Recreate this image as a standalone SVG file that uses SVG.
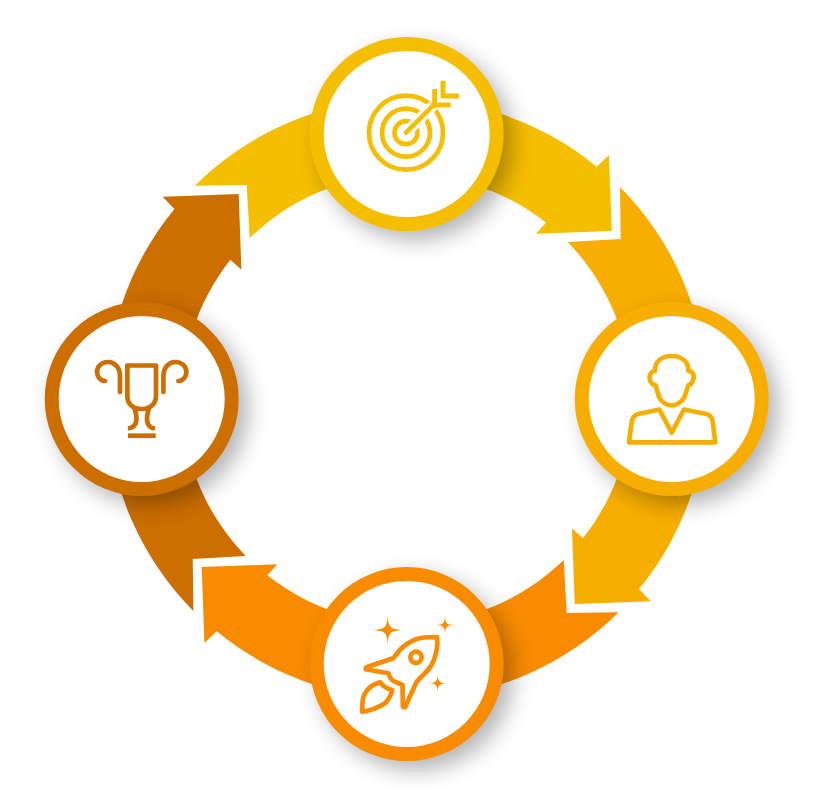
<svg xmlns="http://www.w3.org/2000/svg" width="821" height="801" viewBox="0 0 821 801">
<style>
.ring{stroke:none;filter:url(#sh)}
.hole{fill:#fff}
.ic{fill:none;stroke-width:4.7;stroke-linejoin:round}
.c1{fill:#F6BE00}.c2{fill:#F8AE00}.c3{fill:#F98B00}.c4{fill:#CC6E00}
.s1{stroke:#F6BE00}.s2{stroke:#F8AE00}.s3{stroke:#F98B00}.s4{stroke:#CC6E00}
</style>
<defs>
<filter id="sh" x="-30%" y="-30%" width="170%" height="170%" color-interpolation-filters="sRGB">
<feGaussianBlur in="SourceAlpha" stdDeviation="11"/>
<feOffset dx="9" dy="9"/>
<feComponentTransfer><feFuncA type="linear" slope="0.3"/></feComponentTransfer>
<feMerge><feMergeNode/><feMergeNode in="SourceGraphic"/></feMerge>
</filter>
<path id="arrow" d="M194.7,185.7 L246.7,185 L249.7,238 A225,225 0 0 1 546,222.7 L536,233.7 L611.7,231 L609,155 L596.7,166.7 A300.5,300.5 0 0 0 194.7,185.7 Z"/>
<path id="star" d="M0,-1 C0.05,-0.2 0.2,-0.06 1,0 C0.2,0.06 0.05,0.2 0,1 C-0.05,0.2 -0.2,0.06 -1,0 C-0.2,-0.06 -0.05,-0.2 0,-1 Z"/>
</defs>
<g id="connectors">
<use href="#arrow" class="c1"/>
<use href="#arrow" class="c2" transform="rotate(90 406.7 399)"/>
<use href="#arrow" class="c3" transform="rotate(180 406.7 399)"/>
<use href="#arrow" class="c4" transform="rotate(270 406.7 399)"/>
</g>
<g id="node-target">
<circle class="ring c1" cx="406.7" cy="134" r="97"/>
<circle class="hole" cx="406.7" cy="134" r="83"/>
<g class="ic s1">
<circle cx="406" cy="132.7" r="37"/>
<circle cx="406" cy="132.7" r="24"/>
<circle cx="406" cy="132.7" r="11.5"/>
<path d="M411,127.7 L433,105.7" stroke="#fff" stroke-width="11"/>
<path d="M406,132.7 L434,104.7" stroke-linecap="round"/>
<path d="M434.7,89 V105 H450.7 M443,80.7 V96 H459" stroke-width="5"/>
</g>
</g>
<g id="node-person">
<circle class="ring c2" cx="671.7" cy="399" r="97"/>
<circle class="hole" cx="671.7" cy="399" r="83"/>
<g class="ic s2">
<path d="M655,371 C655,361 662,356 671.7,356 C681,356 688.5,361 688.5,371 C693,371 695,376 693,380 C692,383 690,385 688.5,385 L684.5,397 C682,402 676,405.5 671.7,405.5 C667,405.5 661,402 659,397 L655.5,385 C653,385 651,383 650,380 C648.5,376 651,371 655,371 Z"/>
<path d="M629,442.3 L631.7,421.7 C632.5,417 635,415 638,414 L659.3,409.5 L671.7,432.7 L684,409.5 L706.7,414 C709.5,415 712,417 712.7,421.7 L715.3,442.3 Z"/>
</g>
</g>
<g id="node-rocket">
<circle class="ring c3" cx="406.7" cy="664" r="97"/>
<circle class="hole" cx="406.7" cy="664" r="83"/>
<g class="ic s3">
<path d="M437,637 C428,637 422,637 416.7,639 C409,642 403,646 399,651 L393.3,658.3 L367,667 C365,668 365.5,669.5 367,669.5 L388.3,673.3 C390,678 392,681 395,681.7 L402.5,685 L402.8,705 C403,708 405.5,708 406,705 L416.7,681.7 L428,670 C433,664 436,655 437,648 C437.5,644 437.5,640 437,637 Z"/>
<circle cx="416" cy="657.3" r="5.6"/>
<path d="M362.3,711.7 C362,703 362.5,697 365,693.3 C368,688 374,684 380,682.3 C383,686 388,689 392.3,690 C391,696 388,700 385,703.3 C379,707 371,711 362.3,711.7 Z"/>
</g>
<use href="#star" class="c3" transform="translate(387.7 630) scale(14)"/>
<use href="#star" class="c3" transform="translate(445 625) scale(8.5)"/>
<use href="#star" class="c3" transform="translate(437.7 683.3) scale(8.5)"/>
</g>
<g id="node-trophy">
<circle class="ring c4" cx="141.7" cy="399" r="97"/>
<circle class="hole" cx="141.7" cy="399" r="83"/>
<g class="ic s4">
<path d="M127.3,365.5 H156 V396 C156,404 150,409 141.7,409 C133,409 127.3,404 127.3,396 Z"/>
<path d="M134.5,408 C137,416 139,427 128,428.5 M149,408 C146.5,416 144.5,427 155,428.5"/>
<path d="M128,435.7 H155.7"/>
<path stroke-linecap="round" d="M120,392 V376 C120,367 114,362 108,362 C101,362 97,367 97,372 C97,377 101,381 105,381 M163.4,392 V376 C163.4,367 169.4,362 175.4,362 C182.4,362 186.4,367 186.4,372 C186.4,377 182.4,381 178.4,381"/>
</g>
</g>
</svg>
